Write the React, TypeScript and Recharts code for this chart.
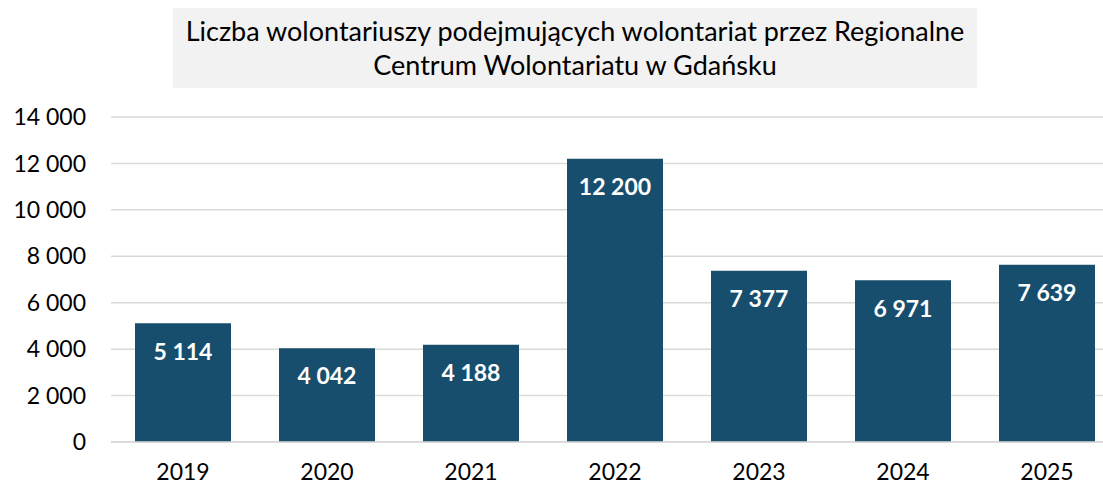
import { BarChart, Bar, XAxis, YAxis, CartesianGrid, LabelList } from "recharts"

// dane
const lata = ["2019", "2020", "2021", "2022", "2023", "2024", "2025"]
const wolontariusze = [5114, 4042, 4188, 12200, 7377, 6971, 7639]
const podzialkiY = [0, 2000, 4000, 6000, 8000, 10000, 12000, 14000]

const dane = lata.map((rok, i) => ({ rok, liczba: wolontariusze[i] }))

const formatuj = (v: number | string) => String(v).replace(/\B(?=(\d{3})+(?!\d))/g, " ")

const FONT = "Lato, 'Open Sans', sans-serif"
const KOLOR = "#174e6d"

export default function App() {
  return (
    <div style={{ position: "absolute", left: 0, top: 0, width: 1103, height: 486, overflow: "hidden", background: "#fff", fontFamily: FONT }}>
      <div
        style={{
          position: "absolute",
          left: 173,
          top: 8,
          width: 804,
          height: 80,
          background: "#f2f2f2",
          boxSizing: "border-box",
          paddingTop: 6,
          textAlign: "center",
          fontSize: 27,
          lineHeight: "34px",
          color: "#000",
          whiteSpace: "nowrap",
        }}
      >
        Liczba wolontariuszy podejmujących wolontariat przez Regionalne
        <br />
        Centrum Wolontariatu w Gdańsku
      </div>
      <BarChart
        width={1120}
        height={486}
        data={dane}
        margin={{ top: 117, right: 1, left: 0, bottom: 0 }}
        barCategoryGap="16.67%"
      >
        <CartesianGrid vertical={false} stroke="#d9d9d9" strokeWidth={1.5} />
        <XAxis
          dataKey="rok"
          height={44}
          tickLine={false}
          tickSize={0}
          tickMargin={22}
          axisLine={{ stroke: "#d9d9d9", strokeWidth: 1.5 }}
          tick={{ fill: "#000", fontSize: 23, fontFamily: FONT }}
        />
        <YAxis
          width={111}
          domain={[0, 14000]}
          ticks={podzialkiY}
          tickFormatter={formatuj}
          axisLine={false}
          tickLine={false}
          tickSize={0}
          tickMargin={25}
          tick={{ fill: "#000", fontSize: 23, fontFamily: FONT }}
        />
        <Bar dataKey="liczba" fill={KOLOR} isAnimationActive={false}>
          <LabelList
            dataKey="liczba"
            position="insideTop"
            offset={20}
            formatter={formatuj}
            fill="#fff"
            fontSize={23}
            fontWeight="bold"
            fontFamily={FONT}
          />
        </Bar>
      </BarChart>
    </div>
  )
}
